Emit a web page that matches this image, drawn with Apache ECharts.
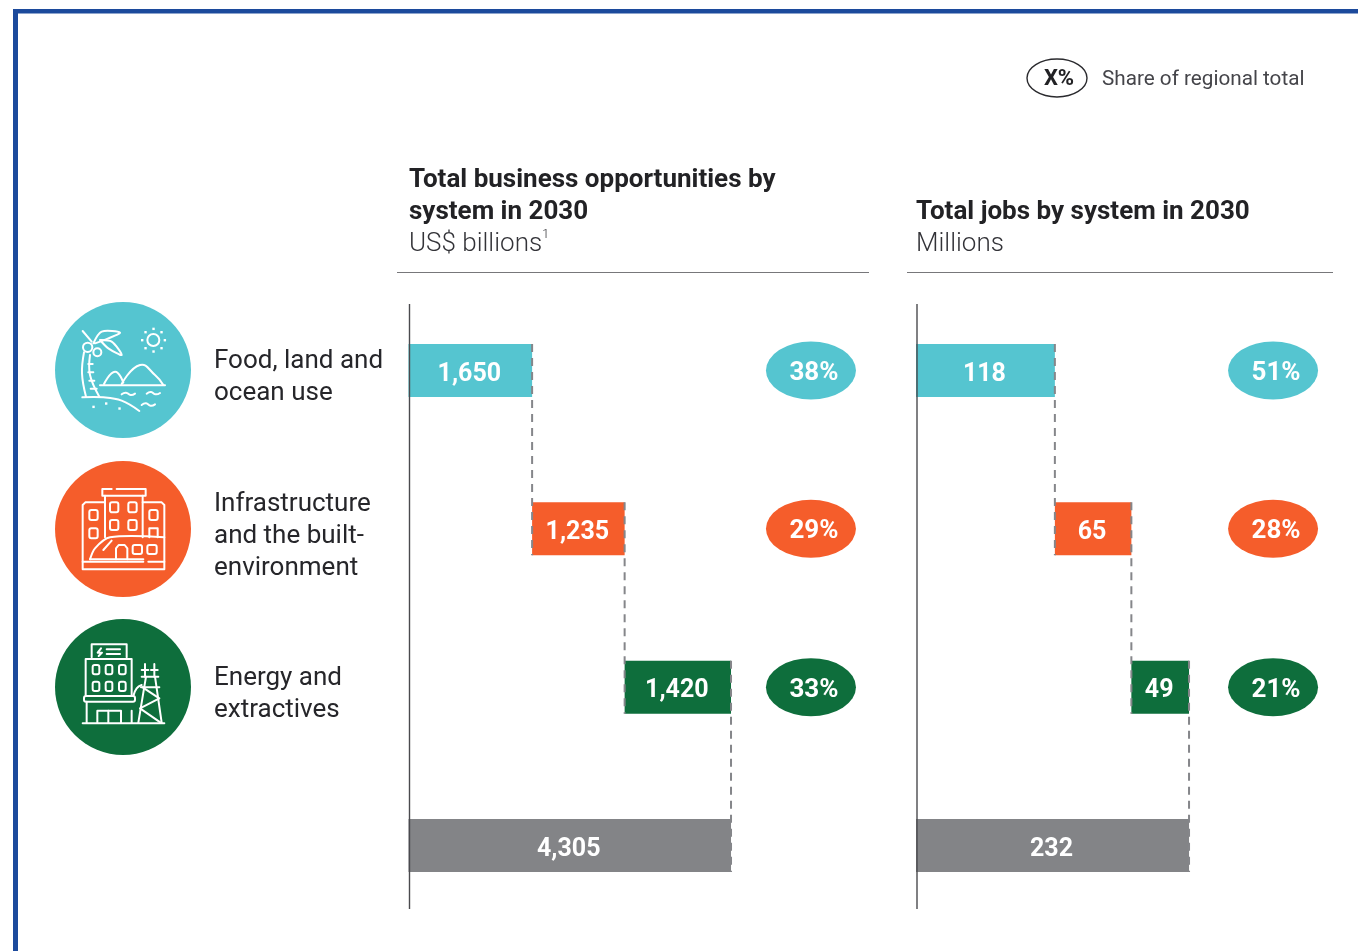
<!DOCTYPE html>
<html>
<head>
<meta charset="utf-8">
<title>Business opportunities and jobs by system in 2030</title>
<script src="https://cdn.jsdelivr.net/npm/echarts@6/dist/echarts.min.js"></script>
<style>
  html, body { margin: 0; padding: 0; background: #fff; }
  #chart { width: 1358px; height: 951px; }
</style>
</head>
<body>
<div id="chart"></div>
<script>
const FONT = 'Roboto';

// data
const systems = ['Food, land and\nocean use', 'Infrastructure\nand the built-\nenvironment', 'Energy and\nextractives', 'Total'];
const bizValues = [1650, 1235, 1420, 4305];
const bizOffsets = [0, 1650, 2885, 0];
const bizShares = [38, 29, 33];
const jobValues = [118, 65, 49, 232];
const jobOffsets = [0, 118, 183, 0];
const jobShares = [51, 28, 21];
const rowColors = ['#55c5d0', '#f55d2b', '#0e6e3c', '#838487'];

const BAR_H = 53;
const pillSymbol = 'path://M0 50A50 50 0 1 1 100 50A50 50 0 1 1 0 50Z';

// one waterfall panel: invisible offset + coloured bar + dashed connectors + share pills
function panel(idx, values, offsets, shares, pillX) {
    const axis = { xAxisIndex: idx, yAxisIndex: idx };
    return [
        {
            type: 'bar', ...axis, stack: 'w' + idx, barWidth: BAR_H, silent: true,
            itemStyle: { color: 'transparent' },
            data: offsets
        },
        {
            type: 'bar', ...axis, stack: 'w' + idx, barWidth: BAR_H,
            data: values.map((v, i) => ({ value: v, itemStyle: { color: rowColors[i] } })),
            label: {
                show: true, position: 'inside', color: '#fff', offset: [-1, 4],
                fontFamily: FONT, fontWeight: 700, fontSize: 25,
                formatter: p => p.value.toLocaleString('en-US')
            }
        },
        {
            type: 'custom', ...axis, z: 5, silent: true,
            data: [0, 1, 2].map(i => [offsets[i] + values[i], i]),
            renderItem: (params, api) => {
                const top = api.coord([api.value(0), api.value(1)]);
                const bottom = api.coord([api.value(0), api.value(1) + 1]);
                return {
                    type: 'line',
                    shape: { x1: top[0], y1: top[1] - BAR_H / 2, x2: bottom[0], y2: bottom[1] + BAR_H / 2 },
                    style: { stroke: '#85868a', lineWidth: 2, lineDash: [8, 6] }
                };
            }
        },
        {
            type: 'scatter', ...axis, symbol: pillSymbol, symbolSize: [90, 58], z: 4,
            data: shares.map((s, i) => ({ value: [pillX, i], itemStyle: { color: rowColors[i], opacity: 1 } })),
            label: {
                show: true, position: 'inside', color: '#fff', offset: [3, 3],
                fontFamily: FONT, fontWeight: 700, fontSize: 26,
                formatter: p => shares[p.dataIndex] + '%'
            }
        }
    ];
}

// icons: coordinates traced at 3x from the crop starting at (40, 290)
const zx = x => 40 + x / 3;
const zy = y => 290 + y / 3;
const iconStyle = { stroke: '#fff', lineWidth: 2, fill: null, lineCap: 'round', lineJoin: 'round' };
const pl = (pts, smooth) => ({
    type: 'polyline', z: 11,
    shape: { points: pts.map(p => [zx(p[0]), zy(p[1])]), smooth: smooth || 0 },
    style: iconStyle
});
const box = (x, y, w, h) => ({
    type: 'rect', z: 11,
    shape: { x: zx(x), y: zy(y), width: w / 3, height: h / 3, r: 2 },
    style: iconStyle
});
const ring = (x, y, r) => ({
    type: 'circle', z: 11,
    shape: { cx: zx(x), cy: zy(y), r: r / 3 },
    style: iconStyle
});
const dot = (x, y) => ({
    type: 'rect', z: 11,
    shape: { x: zx(x) - 1, y: zy(y) - 1, width: 2.4, height: 2.4 },
    style: { fill: '#fff' }
});
const disc = (cy, color) => ({
    type: 'circle', z: 10,
    shape: { cx: 123, cy: cy, r: 68 },
    style: { fill: color }
});

const beachIcon = [
    ring(340, 150, 18),
    dot(340, 116), dot(340, 184), dot(306, 150), dot(374, 150),
    dot(316, 126), dot(364, 126), dot(316, 174), dot(364, 174),
    pl([[132, 187], [126, 250], [138, 320]], 0.4),
    pl([[150, 195], [150, 255], [178, 320]], 0.4),
    pl([[145, 222], [158, 222]]), pl([[145, 247], [160, 247]]), pl([[148, 272], [163, 272]]), pl([[152, 296], [170, 296]]),
    pl([[127, 322], [190, 322], [245, 332], [298, 363]], 0.4),
    dot(160, 350), dot(198, 340), dot(238, 355),
    ring(143, 172, 14), ring(172, 187, 12),
    pl([[128, 123], [155, 155]]),
    pl([[160, 160], [185, 125], [240, 128], [205, 145], [165, 160]], 0.3),
    pl([[180, 150], [215, 155], [245, 195], [205, 175], [180, 150]], 0.3),
    pl([[192, 282], [225, 245], [250, 278]], 0.5),
    pl([[245, 282], [300, 225], [345, 255], [370, 285]], 0.5),
    pl([[180, 286], [375, 286]]),
    pl([[245, 313], [258, 308], [272, 315], [285, 311]], 0.5),
    pl([[320, 311], [333, 306], [347, 313], [360, 309]], 0.5),
    pl([[305, 345], [318, 340], [332, 347], [345, 343]], 0.5)
];

const buildingIcon = [
    pl([[230, 597], [317, 597], [317, 617], [187, 617], [187, 597], [215, 597]]),
    pl([[195, 617], [195, 742]]), pl([[308, 617], [308, 742]]),
    pl([[195, 637], [136, 637], [128, 645], [128, 838], [373, 838], [373, 645], [365, 637], [308, 637]]),
    box(210, 637, 25, 30), box(265, 637, 25, 30), box(210, 690, 25, 30), box(265, 690, 25, 30),
    box(148, 660, 25, 30), box(148, 715, 25, 30), box(328, 660, 25, 30),
    pl([[328, 742], [328, 715], [353, 715], [353, 742]]),
    pl([[150, 808], [165, 775], [210, 742], [373, 742]], 0.3),
    pl([[150, 808], [310, 808]]),
    pl([[190, 780], [215, 752]]),
    pl([[228, 808], [228, 775], [236, 765], [254, 765], [262, 775], [262, 808]]),
    box(278, 765, 28, 27), box(322, 765, 28, 27),
    pl([[128, 815], [310, 815]]), pl([[325, 815], [373, 815]])
];

const powerIcon = [
    pl([[155, 1102], [155, 1063], [260, 1063], [260, 1102]]),
    pl([[183, 1075], [173, 1088], [186, 1088], [176, 1098]]),
    pl([[200, 1078], [240, 1078]]), pl([[200, 1092], [240, 1092]]),
    pl([[137, 1215], [137, 1107], [275, 1107], [275, 1215]]),
    box(158, 1125, 20, 28), box(197, 1125, 20, 28), box(237, 1125, 20, 28),
    box(158, 1175, 20, 28), box(197, 1175, 20, 28), box(237, 1175, 20, 28),
    box(132, 1218, 153, 17),
    pl([[140, 1235], [140, 1298]]), pl([[275, 1262], [275, 1298]]),
    pl([[172, 1298], [172, 1262], [243, 1262], [243, 1298]]), pl([[205, 1262], [205, 1298]]),
    pl([[128, 1300], [373, 1300]]),
    pl([[318, 1160], [295, 1298]]), pl([[345, 1160], [365, 1298]]),
    pl([[305, 1160], [355, 1160]]), pl([[303, 1192], [358, 1192]]),
    pl([[308, 1192], [358, 1225], [300, 1255], [362, 1298]]),
    pl([[315, 1122], [315, 1160]]), pl([[343, 1122], [343, 1160]]),
    pl([[305, 1140], [325, 1140]]), pl([[333, 1140], [353, 1140]]),
    pl([[280, 1218], [290, 1195], [305, 1185]], 0.5)
];

const thinLine = (x1, y1, x2, y2, color, w) => ({
    type: 'line', z: 10,
    shape: { x1: x1, y1: y1, x2: x2, y2: y2 },
    style: { stroke: color, lineWidth: w }
});

const headerRich = {
    b: { fontFamily: FONT, fontWeight: 700, fontSize: 26, lineHeight: 32, color: '#222225' },
    n: { fontFamily: FONT, fontWeight: 300, fontSize: 26, lineHeight: 32, color: '#333338' },
    s: { fontFamily: FONT, fontWeight: 300, fontSize: 13, lineHeight: 32, color: '#333338', verticalAlign: 'top' }
};

const chart = echarts.init(document.getElementById('chart'), null, { renderer: 'canvas' });

const hiddenX = (max) => ({ type: 'value', min: 0, max: max, show: false });
const rowAxis = (gridIndex, showLabels) => ({
    type: 'category', gridIndex: gridIndex, inverse: true, data: systems,
    axisLine: { show: false }, axisTick: { show: false },
    axisLabel: {
        show: showLabels, align: 'left', margin: 194.5,
        // the spacer line nudges the text block a little below the row centre
        formatter: v => (v === 'Total' ? '' : '{g| }\n' + v.split('\n').map(l => '{t|' + l + '}').join('\n')),
        rich: {
            g: { fontSize: 10, lineHeight: 15 },
            t: { fontFamily: FONT, fontSize: 26, lineHeight: 32, color: '#26262a', align: 'left' }
        }
    }
});

chart.setOption({
    animation: false,
    title: [
        {
            left: 409, top: 164, padding: 0,
            text: '{b|Total business opportunities by}\n{b|system in 2030}\n{n|US$ billions}{s|1}',
            textStyle: { rich: headerRich }
        },
        {
            left: 916, top: 196, padding: 0,
            text: '{b|Total jobs by system in 2030}\n{n|Millions}',
            textStyle: { rich: headerRich }
        }
    ],
    // band step is 158.33px, rows centred on 370.5 .. 845.5
    grid: [
        { left: 408.5, top: 291.33, width: 449.5, height: 633.33 },
        { left: 916, top: 291.33, width: 376.6, height: 633.33 }
    ],
    xAxis: [{ ...hiddenX(6000), gridIndex: 0 }, { ...hiddenX(320), gridIndex: 1 }],
    yAxis: [rowAxis(0, true), rowAxis(1, false)],
    series: [
        ...panel(0, bizValues, bizOffsets, bizShares, 5372),
        ...panel(1, jobValues, jobOffsets, jobShares, 303.4)
    ],
    graphic: [
        // page frame
        { type: 'rect', z: 10, shape: { x: 13, y: 9, width: 1345, height: 4.5 }, style: { fill: '#1c4a9c' } },
        { type: 'rect', z: 10, shape: { x: 13, y: 9, width: 5, height: 942 }, style: { fill: '#1c4a9c' } },
        // legend
        { type: 'ellipse', z: 10, shape: { cx: 1057, cy: 78, rx: 30, ry: 19 }, style: { fill: '#fff', stroke: '#2a2a2e', lineWidth: 1.4 } },
        { type: 'text', z: 11, x: 1059, y: 79, style: { text: 'X%', fill: '#222225', font: '700 22px ' + FONT, align: 'center', verticalAlign: 'middle' } },
        { type: 'text', z: 11, x: 1102, y: 80, style: { text: 'Share of regional total', fill: '#45454a', font: '400 20.7px ' + FONT, verticalAlign: 'middle' } },
        // header rules and the two vertical axis lines
        thinLine(397, 272.5, 869, 272.5, '#77777a', 1),
        thinLine(907, 272.5, 1333, 272.5, '#77777a', 1),
        thinLine(409.5, 304, 409.5, 909, '#4a4a4e', 1.4),
        thinLine(917, 304, 917, 909, '#4a4a4e', 1.4),
        // system icons
        disc(370, rowColors[0]), disc(529, rowColors[1]), disc(687, rowColors[2]),
        ...beachIcon, ...buildingIcon, ...powerIcon
    ]
});
</script>
</body>
</html>
